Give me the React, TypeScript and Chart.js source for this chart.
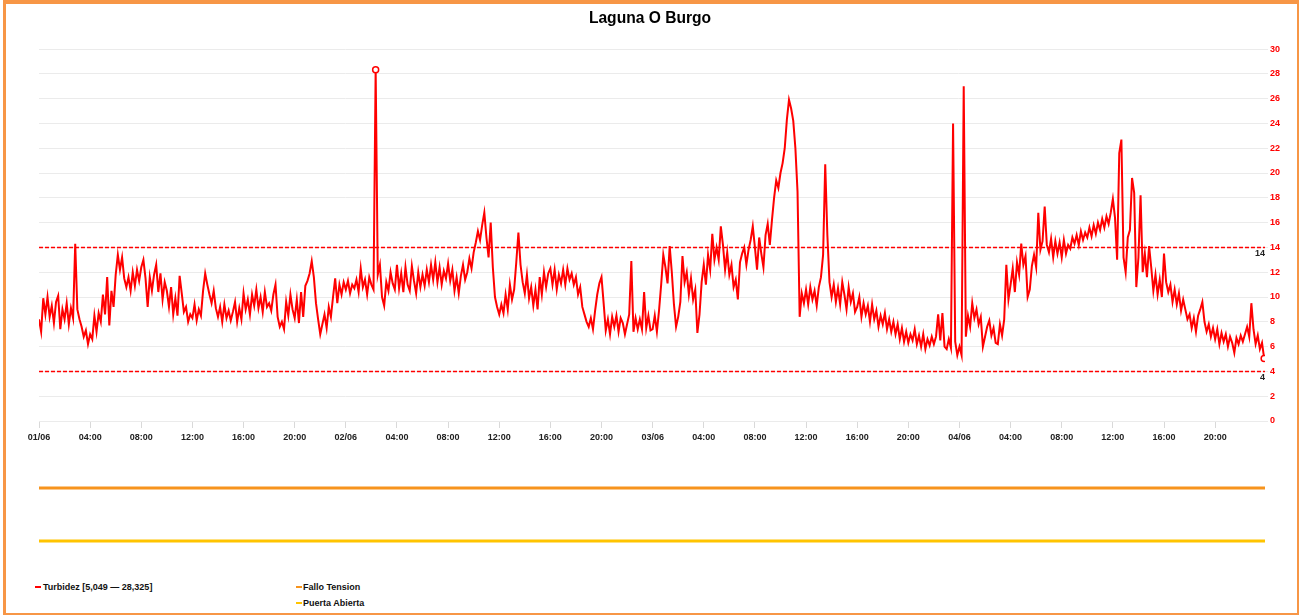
import React, { useEffect, useRef } from 'react';
import { Chart, registerables } from 'chart.js';

Chart.register(...registerables);

const FONT = '"Liberation Sans", Arial, Helvetica, sans-serif';
const TITLE = 'Laguna O Burgo';
const SERIES_NAME = 'Turbidez';
const SAMPLE_MINUTES = 10;
const X_MAX_HOURS = 95.9;

// Turbidity readings, one every 10 minutes from 01/06 00:00 (one row per hour)
const turbidez: number[] = [
  8.2, 7.2, 9.9, 8.6, 10.0, 8.4,
  9.3, 7.9, 9.6, 10.1, 7.4, 9.0,
  8.2, 9.5, 7.8, 9.1, 8.3, 14.3,
  9.0, 8.2, 7.6, 6.8, 7.3, 6.2,
  7.0, 6.6, 8.5, 7.2, 8.7, 8.0,
  10.2, 8.6, 11.6, 7.7, 10.5, 9.2,
  11.8, 13.4, 12.2, 13.2, 11.5, 10.8,
  11.6, 10.5, 12.0, 10.9, 12.2, 11.3,
  12.4, 13.0, 11.5, 9.2, 11.6, 10.5,
  11.8, 12.6, 10.4, 11.9, 9.8, 11.2,
  10.5, 9.2, 10.8, 8.6, 9.9, 8.5,
  11.7, 10.3, 8.8, 9.2, 8.0, 8.6,
  8.3, 9.4, 8.1, 9.0, 8.5, 10.5,
  11.9, 11.0, 10.2, 9.5, 10.5, 9.1,
  8.4, 9.2, 8.0, 9.4, 8.3, 8.9,
  8.1, 8.8, 9.6, 8.0, 9.1, 8.2,
  10.3, 9.0, 9.8, 8.6, 10.2, 9.3,
  10.6, 9.1, 10.0, 8.8, 10.4, 9.2,
  9.5, 8.9, 10.2, 11.0, 8.4, 7.6,
  8.0, 7.4, 9.6, 8.5, 10.2, 9.0,
  8.3, 9.8, 7.9, 10.4, 8.4, 10.9,
  11.3, 11.9, 12.9, 11.6, 9.5, 8.2,
  7.0, 7.8, 8.6, 7.5, 9.2, 8.4,
  10.0, 11.5, 9.5, 11.0, 10.2, 11.2,
  10.6, 11.3, 10.3, 11.0, 10.7, 11.4,
  10.4, 12.3, 10.8, 11.4, 10.2, 11.6,
  11.0, 10.6, 28.325, 11.8, 12.6, 10.0,
  9.3, 11.2, 10.5, 12.0, 11.1, 10.6,
  12.6, 10.7, 11.9, 10.4, 12.4, 11.0,
  10.5, 12.5, 11.3, 10.3, 12.0, 10.8,
  11.8, 10.9, 12.2, 11.2, 12.6, 11.4,
  12.8, 11.2, 12.4, 11.0, 12.1, 11.5,
  12.7, 11.3, 12.2, 10.5, 11.6, 10.3,
  11.7, 12.6, 11.4, 12.0, 13.1, 12.3,
  13.6, 14.4, 15.3, 14.6, 15.8, 16.8,
  14.8, 13.2, 16.0, 12.4, 10.0, 9.2,
  8.6, 9.4, 8.7, 10.2, 9.0, 11.0,
  9.8, 10.6, 12.8, 15.2, 12.6, 11.2,
  10.3, 11.8, 9.9, 10.8, 9.3, 10.6,
  9.0, 11.6, 10.2, 12.0, 10.8, 11.9,
  12.3, 11.0, 12.2, 10.6, 11.8, 11.1,
  12.2, 11.0, 12.3, 11.4, 11.9, 11.0,
  11.6, 10.2, 10.8, 9.2, 8.6, 8.0,
  7.6, 8.3, 7.4, 8.9, 10.2, 11.1,
  11.6, 9.5, 7.3, 8.2, 7.0, 8.4,
  7.6, 8.5, 7.2, 8.3, 7.9, 7.0,
  7.8, 8.6, 12.9, 7.2, 8.3, 7.4,
  8.2, 7.4, 10.4, 7.5, 8.5, 7.3,
  7.4, 8.5, 7.2, 8.9, 11.0, 13.4,
  12.4, 11.1, 14.1, 12.0, 9.4, 7.6,
  8.4, 9.6, 13.3, 11.2, 12.0, 10.2,
  11.5, 9.8, 10.6, 7.1, 8.6, 11.2,
  12.6, 11.0, 13.4, 12.2, 15.1, 13.0,
  14.0, 13.0, 15.7, 14.2, 12.2, 13.6,
  11.8, 12.6, 10.8, 11.4, 9.8, 12.8,
  13.5, 14.0, 12.6, 13.8, 14.6, 15.7,
  14.0, 12.2, 14.8, 13.5, 12.4, 15.0,
  15.9, 14.2, 16.2, 18.0, 19.4, 18.8,
  20.0, 20.8, 22.0, 24.3, 25.9, 25.2,
  24.2, 22.0, 18.5, 8.4, 10.3, 9.5,
  10.6, 9.4, 10.8, 9.8, 10.5, 9.3,
  10.8, 11.6, 13.4, 20.7, 15.0, 11.2,
  10.0, 11.0, 9.6, 10.7, 9.4, 11.2,
  10.2, 9.0, 10.8, 9.6, 10.3, 8.8,
  9.2, 10.0, 8.4, 9.5, 8.6, 9.3,
  8.0, 9.4, 8.2, 8.9, 7.6, 8.5,
  7.8, 8.7, 7.4, 8.2, 7.2, 8.0,
  7.0, 7.8, 6.6, 7.5, 6.4, 7.2,
  6.3, 7.0, 6.5, 7.4, 6.2, 6.9,
  6.0, 7.0, 5.8, 6.6, 6.1, 6.8,
  6.2, 6.8, 8.6, 6.5, 8.7, 6.0,
  5.8, 6.6, 5.9, 24.0, 6.4, 5.3,
  6.0, 5.3, 27.0, 6.8, 8.5, 7.6,
  9.5, 8.3, 9.0, 7.8, 8.4, 6.0,
  6.8, 7.6, 8.1, 6.9, 7.5, 6.3,
  6.2, 7.8, 6.9, 8.2, 12.6, 9.8,
  11.0, 12.3, 10.4, 12.8, 11.8, 14.3,
  12.6, 13.3, 10.0, 10.6, 12.5, 13.4,
  12.4, 16.8, 13.8, 14.5, 17.3, 14.2,
  13.6, 14.7, 13.2, 14.5, 13.5, 14.4,
  13.2, 14.6, 13.5, 14.2, 13.9, 14.8,
  14.3, 15.0, 14.2, 15.3, 14.6, 15.2,
  14.8, 15.6, 14.9, 15.8, 15.1, 16.0,
  15.4, 16.3, 15.6, 16.5, 15.9, 16.8,
  17.9, 16.4, 13.0, 21.6, 22.7, 13.2,
  12.0, 14.8, 15.4, 19.6, 18.4, 10.8,
  13.2, 18.2, 12.0, 13.5, 11.6, 14.1,
  12.4, 10.5, 11.8, 10.2, 11.4, 10.0,
  13.5, 11.2, 10.4, 11.0, 9.6, 10.6,
  9.4, 10.3, 8.9, 9.8, 9.0, 8.2,
  8.6, 7.5, 8.3, 7.2, 8.5, 9.0,
  9.6, 8.0, 7.2, 7.8, 6.8, 7.5,
  6.6, 7.4, 6.2, 7.1, 6.4, 7.0,
  6.0, 6.8, 6.3, 5.5, 6.7, 6.2,
  6.9, 6.4, 7.0, 7.6, 6.8, 9.5,
  7.4, 6.2, 6.9, 5.8, 6.3, 5.049,
];

const xTickHours = [0, 4, 8, 12, 16, 20, 24, 28, 32, 36, 40, 44, 48, 52, 56, 60, 64, 68, 72, 76, 80, 84, 88, 92];
const xTickLabels = [
  '01/06', '04:00', '08:00', '12:00', '16:00', '20:00',
  '02/06', '04:00', '08:00', '12:00', '16:00', '20:00',
  '03/06', '04:00', '08:00', '12:00', '16:00', '20:00',
  '04/06', '04:00', '08:00', '12:00', '16:00', '20:00',
];
const thresholds = [14, 4];

const statusHours = [0, X_MAX_HOURS];
const falloTension = [0, 0];
const puertaAbierta = [0, 0];

const RED = '#ff0000';
const ORANGE = '#f7941d';
const YELLOW = '#ffc400';
const BORDER = '#f79646';

const fmt = (v: number) => v.toFixed(3).replace('.', ',');

const thresholdLabelPlugin = {
  id: 'thresholdLabels',
  afterDatasetsDraw(chart: any) {
    const { ctx, chartArea, scales } = chart;
    const y = scales.y;
    ctx.save();
    ctx.fillStyle = '#222';
    ctx.font = `bold 9px ${FONT}`;
    ctx.textAlign = 'right';
    ctx.textBaseline = 'top';
    thresholds.forEach((t) => {
      const py = y.getPixelForValue(t);
      ctx.fillText(String(t), chartArea.right, py + 1.5);
    });
    ctx.restore();
  },
};

function makeStatusChart(canvas: HTMLCanvasElement, values: number[], color: string) {
  return new Chart(canvas, {
    type: 'line',
    data: {
      datasets: [
        {
          data: statusHours.map((h, i) => ({ x: h, y: values[i] })),
          borderColor: color,
          borderWidth: 3,
          pointRadius: 0,
          tension: 0,
          fill: false,
        },
      ],
    },
    options: {
      animation: false,
      responsive: false,
      events: [],
      layout: { padding: { left: 39, right: 35, top: 0, bottom: 0 } },
      plugins: { legend: { display: false }, tooltip: { enabled: false }, title: { display: false } },
      scales: {
        x: { type: 'linear', min: 0, max: X_MAX_HOURS, display: false },
        y: { min: -1, max: 1, display: false },
      },
    },
  } as any);
}

export default function App() {
  const mainRef = useRef<HTMLCanvasElement>(null);
  const falloRef = useRef<HTMLCanvasElement>(null);
  const puertaRef = useRef<HTMLCanvasElement>(null);

  const minV = Math.min(...turbidez);
  const maxV = Math.max(...turbidez);

  useEffect(() => {
    Chart.defaults.font.family = FONT;
    const maxIdx = turbidez.indexOf(maxV);
    const lastIdx = turbidez.length - 1;
    const points = turbidez.map((v, i) => ({ x: (i * SAMPLE_MINUTES) / 60, y: v }));

    const thresholdSets = thresholds.map((t) => ({
      label: `umbral ${t}`,
      data: [
        { x: 0, y: t },
        { x: X_MAX_HOURS, y: t },
      ],
      borderColor: RED,
      borderWidth: 1.5,
      borderDash: [4, 2],
      pointRadius: 0,
      tension: 0,
      fill: false,
      order: 2,
      yAxisID: 'y',
    }));

    const main = new Chart(mainRef.current!, {
      type: 'line',
      data: {
        datasets: [
          {
            label: SERIES_NAME,
            data: points,
            borderColor: RED,
            borderWidth: 2,
            tension: 0,
            fill: false,
            order: 1,
            yAxisID: 'y',
            pointRadius: (c: any) => (c.dataIndex === maxIdx || c.dataIndex === lastIdx ? 3 : 0),
            pointBackgroundColor: '#ffffff',
            pointBorderColor: RED,
            pointBorderWidth: 1.5,
          },
          ...thresholdSets,
        ],
      },
      options: {
        animation: false,
        responsive: false,
        events: [],
        layout: { padding: { left: 0, right: 0, top: 0, bottom: 0 } },
        plugins: {
          legend: { display: false },
          tooltip: { enabled: false },
          title: {
            display: true,
            text: TITLE,
            color: '#000',
            font: { family: FONT, size: 15.6, weight: 'bold' },
            padding: { top: 9, bottom: 21.3 },
          },
        },
        scales: {
          x: {
            type: 'linear',
            min: 0,
            max: X_MAX_HOURS,
            border: { display: false },
            grid: { drawOnChartArea: false, color: '#d9d9d9', tickLength: 7 },
            ticks: {
              autoSkip: false,
              maxRotation: 0,
              padding: 4,
              color: '#222',
              font: { family: FONT, size: 9, weight: 'bold' },
              callback: (_v: any, i: number) => xTickLabels[i],
            },
            afterBuildTicks: (s: any) => {
              s.ticks = xTickHours.map((v) => ({ value: v }));
            },
            afterFit: (s: any) => {
              s.height = 30;
            },
          },
          spacerLeft: {
            type: 'linear',
            position: 'left',
            display: true,
            min: 0,
            max: 1,
            border: { display: false },
            grid: { display: false },
            ticks: { display: false },
            afterFit: (s: any) => {
              s.width = 39;
            },
          },
          y: {
            position: 'right',
            min: 0,
            max: 30,
            border: { display: false },
            grid: { color: '#ebebeb', tickLength: 3 },
            ticks: {
              stepSize: 2,
              padding: 2,
              color: RED,
              font: { family: FONT, size: 9, weight: 'bold' },
            },
            afterFit: (s: any) => {
              s.width = 35;
            },
          },
        },
      },
      plugins: [thresholdLabelPlugin],
    } as any);

    const fallo = makeStatusChart(falloRef.current!, falloTension, ORANGE);
    const puerta = makeStatusChart(puertaRef.current!, puertaAbierta, YELLOW);

    return () => {
      main.destroy();
      fallo.destroy();
      puerta.destroy();
    };
  }, []);

  const legendText: React.CSSProperties = {
    position: 'absolute',
    font: `bold 9px ${FONT}`,
    lineHeight: '12px',
    color: '#111',
    whiteSpace: 'nowrap',
  };
  const marker = (left: number, top: number, color: string) => (
    <span style={{ position: 'absolute', left, top, width: 6, height: 2, background: color }} />
  );

  return (
    <div
      style={{
        position: 'fixed',
        left: 0,
        top: 0,
        width: 1300,
        height: 615,
        background: '#fff',
        overflow: 'hidden',
        fontFamily: FONT,
      }}
    >
      <div
        style={{
          position: 'absolute',
          left: 3,
          top: 0,
          width: 1296,
          height: 615,
          boxSizing: 'border-box',
          borderStyle: 'solid',
          borderColor: BORDER,
          borderWidth: '4px 2px 2px 3px',
        }}
      />
      <canvas ref={mainRef} width={1300} height={451} style={{ position: 'absolute', left: 0, top: 0 }} />
      <canvas ref={falloRef} width={1300} height={40} style={{ position: 'absolute', left: 0, top: 468 }} />
      <canvas ref={puertaRef} width={1300} height={40} style={{ position: 'absolute', left: 0, top: 521 }} />

      {marker(35, 586, RED)}
      <span style={{ ...legendText, left: 43, top: 581 }}>
        {`${SERIES_NAME} [${fmt(minV)} — ${fmt(maxV)}]`}
      </span>
      {marker(296, 586, ORANGE)}
      <span style={{ ...legendText, left: 303, top: 581 }}>Fallo Tension</span>
      {marker(296, 602, YELLOW)}
      <span style={{ ...legendText, left: 303, top: 597 }}>Puerta Abierta</span>
    </div>
  );
}
